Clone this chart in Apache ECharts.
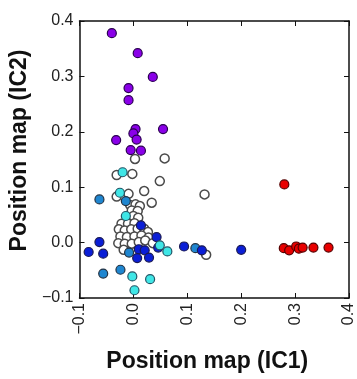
<!DOCTYPE html>
<html>
<head>
<meta charset="utf-8">
<script src="https://cdn.jsdelivr.net/npm/echarts@6/dist/echarts.min.js"></script>
<style>
html,body{margin:0;padding:0;background:#fff;}
#c{width:357px;height:379px;}
</style>
</head>
<body>
<div id="c"></div>
<script>
// Axis ticks
const xTicks = [-0.1, 0.0, 0.1, 0.2, 0.3, 0.4];
const yTicks = [-0.1, 0.0, 0.1, 0.2, 0.3, 0.4];

// Open (white) points: [IC1, IC2]
const whitePts = [
  [0.003, 0.151], [0.058, 0.152], [-0.031, 0.122], [-0.002, 0.124], [0.049, 0.111],
  [0.132, 0.087], [0.020, 0.093], [-0.009, 0.088], [-0.031, 0.083], [0.034, 0.072],
  [0.135, -0.022],
  [-0.006, 0.068], [0.004, 0.069], [0.012, 0.066], [-0.003, 0.058], [0.008, 0.057],
  [0.000, 0.048], [0.009, 0.045], [-0.022, 0.034], [-0.010, 0.034], [0.002, 0.035],
  [-0.027, 0.024], [-0.016, 0.022], [-0.004, 0.024], [0.008, 0.025], [0.020, 0.025],
  [0.027, 0.019], [-0.024, 0.011], [-0.012, 0.010], [0.002, 0.011], [0.015, 0.013],
  [0.028, 0.009], [-0.028, -0.001], [-0.016, -0.002], [-0.003, -0.002], [0.010, 0.001],
  [0.022, 0.004], [0.036, -0.001], [-0.018, -0.013]
];
// Dark blue points
const darkBluePts = [
  [0.200, -0.013], [0.094, -0.007], [0.127, -0.014], [-0.083, -0.017], [-0.063, 0.001],
  [-0.056, -0.020], [0.014, 0.031], [0.043, 0.010], [0.046, -0.009], [0.010, -0.012],
  [0.021, -0.014], [0.007, -0.028], [0.029, -0.027]
];
// Medium blue points
const midBluePts = [
  [-0.063, 0.078], [-0.014, 0.075], [0.115, -0.010], [-0.056, -0.056], [-0.024, -0.049],
  [-0.008, -0.018]
];
// Cyan points
const cyanPts = [
  [-0.020, 0.127], [-0.025, 0.090], [-0.014, 0.048], [0.049, -0.005], [0.063, -0.016],
  [-0.002, -0.061], [0.031, -0.066], [0.002, -0.086]
];
// Purple points
const purplePts = [
  [-0.040, 0.378], [0.008, 0.342], [0.036, 0.299], [-0.009, 0.279], [-0.009, 0.257],
  [0.004, 0.205], [0.055, 0.205], [0.000, 0.197], [-0.032, 0.185], [0.006, 0.186],
  [-0.005, 0.167], [0.014, 0.166]
];
// Red points
const redPts = [
  [0.280, 0.105], [0.279, -0.010], [0.289, -0.014], [0.302, -0.007], [0.307, -0.011],
  [0.314, -0.009], [0.334, -0.009], [0.362, -0.009]
];

const FONT = 'Liberation Sans, Arial, Helvetica, sans-serif';
const fmt = v => (v < 0 ? '\u2212' : '') + Math.abs(v).toFixed(1);

function baseAxis(extra) {
  return Object.assign({
    type: 'value', min: -0.1, max: 0.4, interval: 0.1,
    axisLine: { show: true, onZero: false, lineStyle: { color: '#111', width: 1.5 } },
    axisTick: { show: true, inside: true, length: 5, lineStyle: { color: '#111', width: 1 } },
    splitLine: { show: false }
  }, extra);
}

const chart = echarts.init(document.getElementById('c'), null, { renderer: 'canvas' });

function sc(name, data, color, border, bw) {
  return {
    name, type: 'scatter', data, xAxisIndex: 0, yAxisIndex: 0,
    symbolSize: 9,
    itemStyle: { color, borderColor: border, borderWidth: bw || 1.2, opacity: 1 },
    emphasis: { disabled: true }
  };
}

chart.setOption({
  animation: false,
  backgroundColor: '#fff',
  grid: { left: 73, right: 6, top: 21, bottom: 81, containLabel: false },
  xAxis: [
    baseAxis({
      position: 'bottom',
      name: 'Position map (IC1)', nameLocation: 'middle', nameGap: 52,
      nameTextStyle: { fontFamily: FONT, fontWeight: 'bold', fontSize: 23, color: '#111', padding: [0, 14, 0, 0] },
      axisLabel: { show: true, rotate: 90, margin: 5, fontFamily: FONT, fontSize: 16, color: '#222', formatter: fmt, hideOverlap: false, showMinLabel: true, showMaxLabel: true }
    }),
    baseAxis({ position: 'top', axisLabel: { show: false } })
  ],
  yAxis: [
    baseAxis({
      position: 'left',
      name: 'Position map (IC2)', nameLocation: 'middle', nameGap: 42, nameRotate: 90,
      nameTextStyle: { fontFamily: FONT, fontWeight: 'bold', fontSize: 23, color: '#111', padding: [0, 0, 0, 18] },
      axisLabel: { show: true, margin: 6, fontFamily: FONT, fontSize: 16, color: '#222', formatter: fmt, showMinLabel: true, showMaxLabel: true }
    }),
    baseAxis({ position: 'right', axisLabel: { show: false } })
  ],
  series: [
    sc('white', whitePts, '#ffffff', '#4a4a4a', 1.5),
    sc('midblue', midBluePts, '#1f86d0', '#223344'),
    sc('darkblue', darkBluePts, '#0a1ed6', '#1a1a55'),
    sc('cyan', cyanPts, '#3fe6e6', '#225566'),
    sc('purple', purplePts, '#8a00e8', '#2a0050'),
    sc('red', redPts, '#e80000', '#550000')
  ]
});
</script>
</body>
</html>
